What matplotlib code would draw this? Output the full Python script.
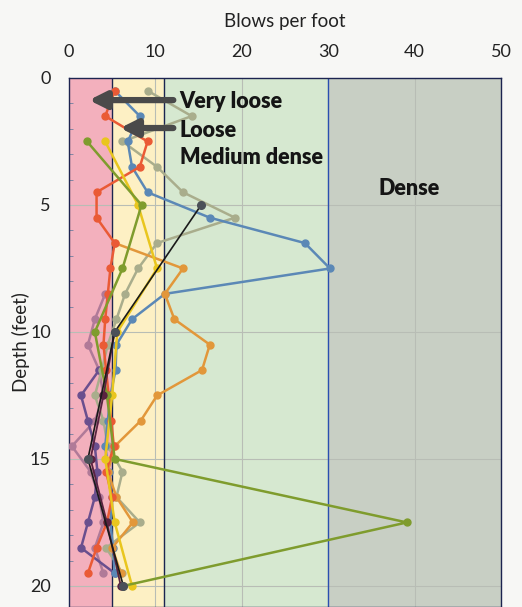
import matplotlib
matplotlib.use("Agg")
import matplotlib.pyplot as plt

plt.rcParams['font.family'] = ['Lato', 'DejaVu Sans']

# density bands (blows per foot)
band_edges = [0, 5, 11, 30, 50]
band_colors = ["#f3b0bd", "#fdf0c4", "#d6e8d0", "#c8cfc4"]

# boring logs: depth (ft) and blows per foot
depth_1ft = [0.5, 1.5, 2.5, 3.5, 4.5, 5.5, 6.5, 7.5, 8.5, 9.5,
             10.5, 11.5, 12.5, 13.5, 14.5, 15.5, 16.5, 17.5, 18.5, 19.5]
depth_25ft = [2.5, 5, 7.5, 10, 12.5, 15, 17.5, 20]
depth_5ft = [5, 10, 15, 20]

blue_n = [5.3, 8.2, 6.8, 7.3, 9.1, 16.3, 27.3, 30.2, 11.1, 7.3,
          5.5, 5.4, 4.8, 4.5, 4.2, 4.6, 5.0, 4.8, 5.1, 5.3]
sage_n = [9.1, 14.2, 6.2, 10.2, 13.2, 19.2, 10.2, 8.0, 6.5, 5.5,
          4.5, 3.8, 3.0, 4.0, 4.5, 6.2, 5.5, 8.2, 4.3, 6.2]
tomato_n = [5.3, 4.2, 9.1, 8.2, 3.2, 3.2, 5.3, 4.8, 4.5, 4.2,
            4.0, 4.3, 4.6, 4.9, 5.2, 4.3, 5.0, 4.4, 3.2, 2.2]
olive_n = [2.1, 8.4, 6.2, 3.0, 4.4, 5.3, 39.1, 6.3]
yellow_n = [4.2, 8.0, 10.2, 5.6, 5.0, 4.2, 5.3, 7.3]
black_n = [15.3, 5.3, 2.2, 6.3]

amber_depth = [6.5, 7.5, 8.5, 9.5, 10.5, 11.5, 12.5, 13.5, 14.5, 15.5, 16.5, 17.5, 18.5, 19.5]
amber_n = [5.3, 13.2, 11.1, 12.2, 16.3, 15.4, 10.2, 8.3, 5.3, 4.5, 5.5, 7.4, 5.0, 6.0]

purple_depth = [11.5, 12.5, 13.5, 14.5, 15.5, 16.5, 17.5, 18.5, 19.5]
purple_n = [3.5, 1.4, 2.2, 3.0, 3.3, 3.0, 2.2, 1.4, 5.3]

mauve_depth = [8.5, 9.5, 10.5, 11.5, 12.5, 13.5, 14.5, 15.5, 16.5, 17.5, 18.5, 19.5]
mauve_n = [4.2, 3.0, 2.2, 3.5, 4.0, 3.0, 0.35, 2.5, 3.5, 4.0, 3.0, 4.0]

maroon_depth = [10, 12.5, 15, 17.5, 20]
maroon_n = [5.3, 4.0, 2.5, 4.4, 6.0]

fig = plt.figure(figsize=(5.22, 6.07), dpi=100)
fig.patch.set_facecolor("#f7f7f5")
ax = fig.add_axes([0.132, 0.0, 0.828, 0.8715])

for i in range(4):
    ax.axvspan(band_edges[i], band_edges[i + 1], color=band_colors[i], zorder=0)
for xv, c in [(5, "#1c2450"), (11, "#1c2450"), (30, "#2a4fb0")]:
    ax.axvline(xv, color=c, lw=1.0, zorder=1)

for xv in [10, 20, 40]:
    ax.axvline(xv, color="#b8bdb5", lw=0.8, zorder=0.5)
for yv in [5, 10, 15, 20]:
    ax.axhline(yv, color="#b8bdb5", lw=0.8, zorder=0.5)

series = [
    (mauve_n, mauve_depth, "#b07a98"),
    (purple_n, purple_depth, "#6a4f8e"),
    (sage_n, depth_1ft, "#a9ad8c"),
    (blue_n, depth_1ft, "#5b88b6"),
    (amber_n, amber_depth, "#e2973a"),
    (tomato_n, depth_1ft, "#ea5a35"),
    (yellow_n, depth_25ft, "#e9c61e"),
    (olive_n, depth_25ft, "#7f9c2d"),
]
for vals, dep, col in series:
    ax.plot(vals, dep, color=col, lw=1.8, marker="o", ms=5, zorder=3)

ax.plot(maroon_n, maroon_depth, color="#5a2340", lw=1.3, marker="o", ms=5, zorder=3)
ax.plot(black_n, depth_5ft, color="#1a1a1a", lw=1.2, marker="o", ms=5.5,
        markerfacecolor="#4a5058", markeredgecolor="#4a5058", zorder=4)

# annotations
arrow_col = "#4a4a4a"
ax.annotate("", xy=(2.0, 0.87), xytext=(12.4, 0.87),
            arrowprops=dict(arrowstyle="-|>,head_width=0.5,head_length=1.0",
                            color=arrow_col, lw=4.5), zorder=6)
ax.annotate("", xy=(5.6, 1.97), xytext=(12.4, 1.97),
            arrowprops=dict(arrowstyle="-|>,head_width=0.5,head_length=1.0",
                            color=arrow_col, lw=4.5), zorder=6)
label_kw = dict(fontsize=15.5, fontweight="heavy", color="#151515",
                va="center", ha="left", zorder=7)
ax.text(12.8, 0.92, "Very loose", **label_kw)
ax.text(12.8, 2.05, "Loose", **label_kw)
ax.text(12.8, 3.15, "Medium dense", **label_kw)
ax.text(35.8, 4.35, "Dense", **label_kw)

ax.set_xlim(0, 50)
ax.set_ylim(20.83, 0)
ax.xaxis.tick_top()
ax.xaxis.set_label_position("top")
ax.set_xticks([0, 10, 20, 30, 40, 50])
ax.set_yticks([0, 5, 10, 15, 20])
ax.set_yticks(range(21), minor=True)
ax.tick_params(axis="both", which="major", length=0, labelsize=13, pad=13, colors="#222222")
ax.tick_params(axis="y", which="minor", direction="in", length=3, color="#7080a0")
ax.set_xlabel("Blows per foot", fontsize=13.5, labelpad=12, color="#222222")
ax.set_ylabel("Depth (feet)", fontsize=13.5, labelpad=0, color="#222222")
for s in ax.spines.values():
    s.set_color("#1c2450")
    s.set_linewidth(1.0)

fig.savefig("out.png", dpi=100, facecolor=fig.get_facecolor())
